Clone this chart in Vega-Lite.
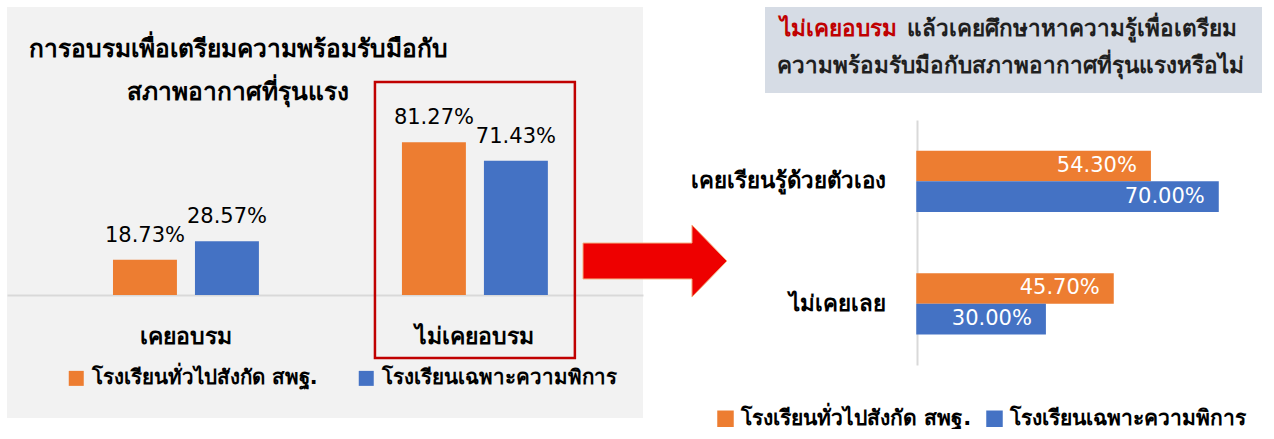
{
  "$schema": "https://vega.github.io/schema/vega-lite/v6.json",
  "padding": {"left": 7, "top": 7, "right": 0, "bottom": 0},
  "background": "white",
  "config": {"font": "DejaVu Sans", "view": {"stroke": null}},
  "datasets": {
    "training": [
      {"group": "เคยอบรม", "school": "โรงเรียนทั่วไปสังกัด สพฐ.", "value": 0.1873},
      {"group": "เคยอบรม", "school": "โรงเรียนเฉพาะความพิการ", "value": 0.2857},
      {"group": "ไม่เคยอบรม", "school": "โรงเรียนทั่วไปสังกัด สพฐ.", "value": 0.8127},
      {"group": "ไม่เคยอบรม", "school": "โรงเรียนเฉพาะความพิการ", "value": 0.7143}
    ],
    "selfstudy": [
      {"answer": "เคยเรียนรู้ด้วยตัวเอง", "school": "โรงเรียนทั่วไปสังกัด สพฐ.", "value": 0.543},
      {"answer": "เคยเรียนรู้ด้วยตัวเอง", "school": "โรงเรียนเฉพาะความพิการ", "value": 0.70},
      {"answer": "ไม่เคยเลย", "school": "โรงเรียนทั่วไปสังกัด สพฐ.", "value": 0.457},
      {"answer": "ไม่เคยเลย", "school": "โรงเรียนเฉพาะความพิการ", "value": 0.30}
    ],
    "heading": [
      {"line": 1, "part": "highlight", "text": "ไม่เคยอบรม"},
      {"line": 1, "part": "rest", "text": "แล้วเคยศึกษาหาความรู้เพื่อเตรียม"},
      {"line": 2, "part": "rest", "text": "ความพร้อมรับมือกับสภาพอากาศที่รุนแรงหรือไม่"}
    ]
  },
  "hconcat": [
    {
      "width": 636,
      "height": 411,
      "view": {"fill": "#f2f2f2", "stroke": null},
      "title": {
        "text": ["การอบรมเพื่อเตรียมความพร้อมรับมือกับ", "สภาพอากาศที่รุนแรง"],
        "anchor": "start",
        "align": "center",
        "dx": 231,
        "offset": -98,
        "fontSize": 24.5,
        "fontWeight": "bold",
        "lineHeight": 43,
        "color": "black"
      },
      "data": {"name": "training"},
      "encoding": {
        "x": {
          "field": "group",
          "type": "nominal",
          "sort": ["เคยอบรม", "ไม่เคยอบรม"],
          "scale": {"paddingInner": 0.495, "paddingOuter": 0.348, "align": 0.527},
          "axis": {
            "title": null,
            "orient": "bottom",
            "offset": -123,
            "domainColor": "#d9d9d9",
            "domainWidth": 2,
            "ticks": false,
            "labelAngle": 0,
            "labelFontSize": 23,
            "labelFontWeight": "bold",
            "labelColor": "black",
            "labelPadding": 30
          }
        }
      },
      "layer": [
        {
          "mark": {"type": "bar"},
          "encoding": {
            "xOffset": {"field": "school", "type": "nominal", "sort": ["โรงเรียนทั่วไปสังกัด สพฐ.", "โรงเรียนเฉพาะความพิการ"], "scale": {"paddingInner": 0.22}},
            "y": {"field": "value", "type": "quantitative", "scale": {"domain": [-0.654, 1.532], "nice": false}, "axis": null},
            "color": {
              "field": "school",
              "type": "nominal",
              "sort": ["โรงเรียนทั่วไปสังกัด สพฐ.", "โรงเรียนเฉพาะความพิการ"],
              "scale": {"domain": ["โรงเรียนทั่วไปสังกัด สพฐ.", "โรงเรียนเฉพาะความพิการ"], "range": ["#ed7d31", "#4472c4"]},
              "legend": {
                "orient": "none",
                "legendX": 59,
                "legendY": 361,
                "direction": "horizontal",
                "title": null,
                "symbolType": "square",
                "symbolSize": 225,
                "symbolStrokeWidth": 0,
                "symbolOpacity": 1,
                "labelFontSize": 20.5,
                "labelFontWeight": "bold",
                "labelColor": "black",
                "labelOffset": 5,
                "columnPadding": 38,
                "labelLimit": 400,
                "padding": 0
              }
            }
          }
        },
        {
          "mark": {"type": "text", "baseline": "alphabetic", "dy": -18, "fontSize": 21, "color": "black"},
          "encoding": {
            "xOffset": {"field": "school", "type": "nominal", "sort": ["โรงเรียนทั่วไปสังกัด สพฐ.", "โรงเรียนเฉพาะความพิการ"], "scale": {"paddingInner": 0.22}},
            "y": {"field": "value", "type": "quantitative"},
            "text": {"field": "value", "type": "quantitative", "format": ".2%"}
          }
        },
        {
          "transform": [{"filter": "datum.group === 'ไม่เคยอบรม' && datum.school === 'โรงเรียนทั่วไปสังกัด สพฐ.'"}],
          "mark": {"type": "rect", "width": {"band": 1.37}, "filled": false, "color": "#c00000", "strokeWidth": 2.5},
          "encoding": {
            "y": {"datum": 1.133},
            "y2": {"datum": -0.335}
          }
        }
      ]
    },
    {
      "width": 122,
      "height": 411,
      "data": {"values": [{"shape": "arrow"}]},
      "mark": {
        "type": "point",
        "shape": "M-1.669,0.421L-0.166,0.421L-0.166,0.172L0.317,0.669L-0.166,1.166L-0.166,0.917L-1.669,0.917Z",
        "filled": true,
        "size": 21025,
        "fill": "#ee0000",
        "stroke": "#f4b183",
        "strokeWidth": 1,
        "opacity": 1
      },
      "encoding": {}
    },
    {
      "vconcat": [
        {
          "width": 497,
          "height": 86,
          "view": {"fill": "#d6dce5", "stroke": null},
          "data": {"name": "heading"},
          "encoding": {
            "y": {"field": "line", "type": "ordinal", "scale": {"type": "point", "padding": 0.647, "align": 0.45}, "axis": null},
            "text": {"field": "text"}
          },
          "layer": [
            {
              "transform": [{"filter": "datum.part === 'highlight'"}],
              "mark": {"type": "text", "align": "right", "dx": -116.5, "fontSize": 22.5, "fontWeight": "bold", "color": "#c00000", "baseline": "middle"}
            },
            {
              "transform": [{"filter": "datum.part === 'rest' && datum.line === 1"}],
              "mark": {"type": "text", "align": "left", "dx": -106.5, "fontSize": 22.5, "fontWeight": "bold", "color": "#1f1f1f", "baseline": "middle"}
            },
            {
              "transform": [{"filter": "datum.line === 2"}],
              "mark": {"type": "text", "align": "center", "dx": -3, "fontSize": 22.5, "fontWeight": "bold", "color": "#1f1f1f", "baseline": "middle"}
            }
          ]
        },
        {
          "width": 497,
          "height": 245,
          "data": {"name": "selfstudy"},
          "encoding": {
            "y": {
              "field": "answer",
              "type": "nominal",
              "sort": ["เคยเรียนรู้ด้วยตัวเอง", "ไม่เคยเลย"],
              "scale": {"paddingInner": 0.5, "paddingOuter": 0.25},
              "axis": {
                "title": null,
                "offset": -152,
                "domainColor": "#d9d9d9",
                "domainWidth": 2,
                "ticks": false,
                "labelFontSize": 22.3,
                "labelFontWeight": "bold",
                "labelColor": "black",
                "labelPadding": 32,
                "labelLimit": 300
              }
            },
            "yOffset": {"field": "school", "type": "nominal", "sort": ["โรงเรียนทั่วไปสังกัด สพฐ.", "โรงเรียนเฉพาะความพิการ"], "scale": {"paddingInner": 0}},
            "x": {"field": "value", "type": "quantitative", "scale": {"domain": [-0.35, 0.8], "nice": false}, "axis": null}
          },
          "layer": [
            {
              "mark": {"type": "bar"},
              "encoding": {
                "color": {
                  "field": "school",
                  "type": "nominal",
                  "sort": ["โรงเรียนทั่วไปสังกัด สพฐ.", "โรงเรียนเฉพาะความพิการ"],
                  "legend": {
                    "orient": "none",
                    "legendX": -50,
                    "legendY": 288,
                    "direction": "horizontal",
                    "title": null,
                    "symbolType": "square",
                    "symbolSize": 272,
                    "symbolStrokeWidth": 0,
                    "symbolOpacity": 1,
                    "labelFontSize": 21,
                    "labelFontWeight": "bold",
                    "labelColor": "black",
                    "labelOffset": 5,
                    "columnPadding": 12,
                    "labelLimit": 400,
                    "padding": 0
                  }
                }
              }
            },
            {
              "mark": {"type": "text", "align": "right", "dx": -14, "baseline": "middle", "fontSize": 21, "color": "white"},
              "encoding": {
                "text": {"field": "value", "type": "quantitative", "format": ".2%"}
              }
            }
          ]
        }
      ],
      "spacing": 27,
      "bounds": "flush",
      "resolve": {"legend": {"color": "independent"}}
    }
  ],
  "spacing": 0,
  "bounds": "flush",
  "resolve": {"legend": {"color": "independent"}}
}
